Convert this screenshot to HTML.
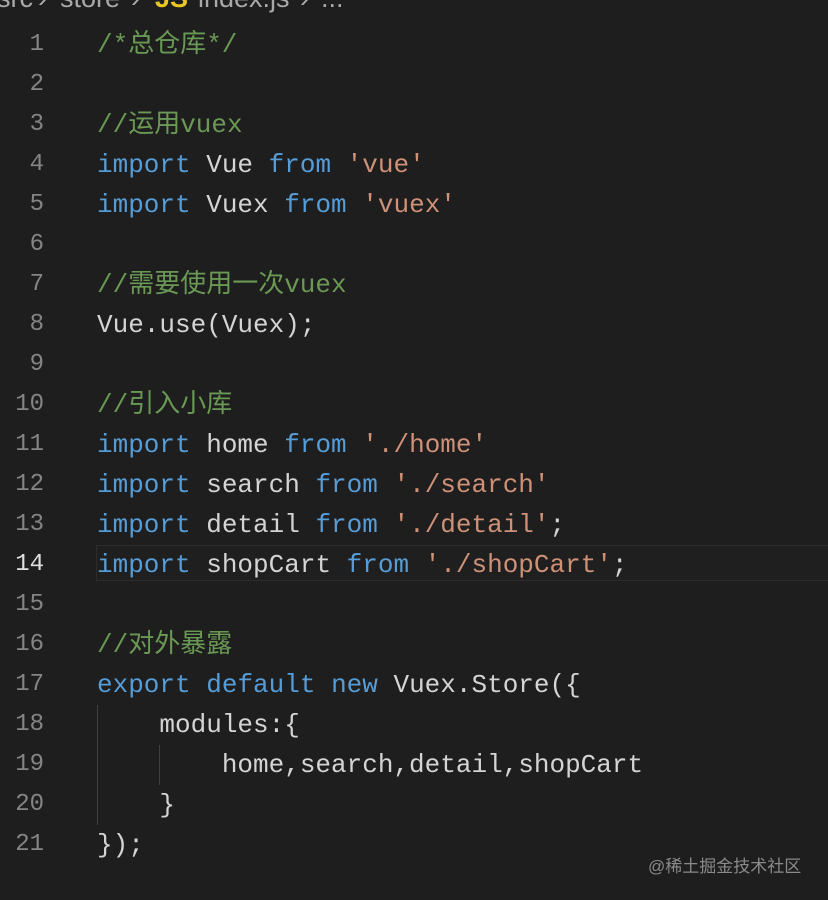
<!DOCTYPE html>
<html><head><meta charset="utf-8">
<style>
html,body{margin:0;padding:0;}
body{width:828px;height:900px;background:#1e1e1e;position:relative;overflow:hidden;font-family:"Liberation Mono","Noto Sans CJK SC",monospace;}
.cr{position:absolute;top:-17px;font-family:"Liberation Sans",sans-serif;font-size:27px;color:#a9a9a9;white-space:pre;}
.cr.b{color:#e8c81e;font-weight:bold;}
.ln{position:absolute;left:0;width:44px;text-align:right;font-size:24px;color:#858585;line-height:40px;}
.ln.cur{color:#e0e0e0;}
.code{position:absolute;left:97px;font-size:26px;line-height:40px;color:#d4d4d4;white-space:pre;}
.k{color:#569cd6}.s{color:#ce9178}.c{color:#6a9955}
.hl{position:absolute;left:96px;top:545px;width:740px;height:34px;border:1px solid #2c2c2c;background:#1f1f1f;}
.guide{position:absolute;width:1px;background:#404040;}
.wm{position:absolute;left:648px;top:852px;font-family:"Liberation Sans","Noto Sans CJK SC",sans-serif;font-size:17px;color:#8a8a8a;}
</style></head><body>
<div class="cr" style="left:-3px">src</div>
<div class="cr" style="left:38px">›</div>
<div class="cr" style="left:60px">store</div>
<div class="cr" style="left:131px">›</div>
<div class="cr b" style="left:155px">JS</div>
<div class="cr" style="left:198px">index.js</div>
<div class="cr" style="left:300px">›</div>
<div class="cr" style="left:321px">...</div>
<div class="hl"></div>
<div class="guide" style="left:97px;top:705px;height:120px"></div>
<div class="guide" style="left:159px;top:745px;height:40px"></div>

<div class="ln" style="top:25px">1</div><div class="code c" style="top:25px">/*总仓库*/</div>
<div class="ln" style="top:65px">2</div>
<div class="ln" style="top:105px">3</div><div class="code c" style="top:105px">//运用vuex</div>
<div class="ln" style="top:145px">4</div><div class="code" style="top:145px"><span class="k">import</span> Vue <span class="k">from</span> <span class="s">'vue'</span></div>
<div class="ln" style="top:185px">5</div><div class="code" style="top:185px"><span class="k">import</span> Vuex <span class="k">from</span> <span class="s">'vuex'</span></div>
<div class="ln" style="top:225px">6</div>
<div class="ln" style="top:265px">7</div><div class="code c" style="top:265px">//需要使用一次vuex</div>
<div class="ln" style="top:305px">8</div><div class="code" style="top:305px">Vue.use(Vuex);</div>
<div class="ln" style="top:345px">9</div>
<div class="ln" style="top:385px">10</div><div class="code c" style="top:385px">//引入小库</div>
<div class="ln" style="top:425px">11</div><div class="code" style="top:425px"><span class="k">import</span> home <span class="k">from</span> <span class="s">'./home'</span></div>
<div class="ln" style="top:465px">12</div><div class="code" style="top:465px"><span class="k">import</span> search <span class="k">from</span> <span class="s">'./search'</span></div>
<div class="ln" style="top:505px">13</div><div class="code" style="top:505px"><span class="k">import</span> detail <span class="k">from</span> <span class="s">'./detail'</span>;</div>
<div class="ln cur" style="top:545px">14</div><div class="code" style="top:545px"><span class="k">import</span> shopCart <span class="k">from</span> <span class="s">'./shopCart'</span>;</div>
<div class="ln" style="top:585px">15</div>
<div class="ln" style="top:625px">16</div><div class="code c" style="top:625px">//对外暴露</div>
<div class="ln" style="top:665px">17</div><div class="code" style="top:665px"><span class="k">export</span> <span class="k">default</span> <span class="k">new</span> Vuex.Store({</div>
<div class="ln" style="top:705px">18</div><div class="code" style="top:705px">    modules:{</div>
<div class="ln" style="top:745px">19</div><div class="code" style="top:745px">        home,search,detail,shopCart</div>
<div class="ln" style="top:785px">20</div><div class="code" style="top:785px">    }</div>
<div class="ln" style="top:825px">21</div><div class="code" style="top:825px">});</div>

<div class="wm">@稀土掘金技术社区</div>
</body></html>
